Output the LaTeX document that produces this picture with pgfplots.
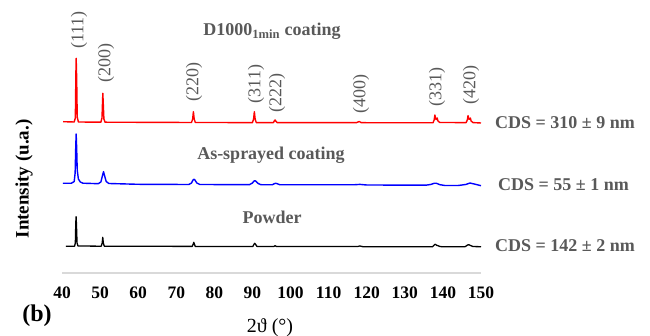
\documentclass[border=0pt]{standalone}
\usepackage{fontspec}
\setmainfont{Liberation Serif}
\usepackage{pgfplots}
\pgfplotsset{compat=1.18}
\definecolor{txtgray}{RGB}{89,89,89}
\definecolor{axgray}{RGB}{217,217,217}
\definecolor{xred}{RGB}{255,0,0}
\definecolor{xblue}{RGB}{0,0,255}
\begin{document}
\begin{tikzpicture}[x=1pt,y=1pt]
\useasboundingbox (0,0) rectangle (650,336);
\begin{axis}[
 at={(62pt,63pt)}, anchor=south west,
 scale only axis, width=419pt, height=268pt,
 xmin=40, xmax=150, ymin=0, ymax=268,
 axis x line*=bottom, axis y line=none,
 x axis line style={draw=axgray, line width=1.5pt, -},
 xtick={40,50,...,150},
 major tick length=0pt,
 tick style={draw=none},
 xticklabel style={font=\bfseries\fontsize{17.5}{20}\selectfont, inner sep=0pt, anchor=north, yshift=-14pt},
 /pgf/number format/assume math mode=true,
 ytick=\empty,
 clip=false,
]
% D1000 1min coating (offset intensity, a.u.)
\addplot[xred, line width=1.4pt, line join=round] coordinates {
(40.3,151.3) (43.2,151.0) (43.5,155) (43.65,200) (43.72,214.7) (43.85,195) (44.0,156) (44.3,151.0)
(50.2,150.8) (50.5,155) (50.65,172) (50.72,179.7) (50.85,168) (51.0,154) (51.3,150.8)
(74.0,150.5) (74.3,154) (74.5,161.3) (74.7,154) (75.0,150.5)
(90.0,150.4) (90.3,154) (90.5,161.3) (90.7,154) (91.0,150.4)
(95.5,150.4) (95.8,152.5) (95.95,153) (96.2,151.5) (96.5,150.3)
(117.3,150.3) (118.0,151.5) (118.6,150.3)
(137.4,150.2) (137.7,153) (137.9,158) (138.1,154) (138.3,153.5) (138.5,155) (138.7,152) (139.2,150.5)
(146.1,150.4) (146.4,153) (146.6,157.3) (146.8,154) (147.0,153.7) (147.2,155) (147.4,152) (147.9,150.4)
(150.0,150)
};
% As-sprayed coating
\addplot[xblue, line width=1.4pt, line join=round] coordinates {
(40.2,89.7) (42.5,89.8) (43.2,91.5) (43.45,100) (43.6,125) (43.72,139) (43.85,125) (44.0,103) (44.3,94) (44.8,91) (45.5,89.8)
(49.5,89.3) (50.2,91) (50.6,97) (50.9,101.3) (51.2,97) (51.6,91.5) (52.3,89.5)
(60,88.7) (73.3,88.5) (74.0,90) (74.4,93) (74.65,93.7) (74.9,93) (75.4,90) (76.2,88.5)
(89.2,88.3) (90.0,90) (90.4,92) (90.65,92.3) (90.9,91.8) (91.4,89.7) (92.2,88.3)
(95.2,88.2) (95.8,89.4) (96.1,89.7) (96.5,89.3) (97.2,88.2)
(116.5,88.2) (118.2,88.6) (120,88.0)
(135.5,87.8) (136.8,88.5) (137.7,89.7) (138.3,89.7) (139.2,88.3) (140.5,87.5)
(144,87.5) (146,88.5) (147.1,90) (148.2,89) (150,87.3)
};
% Powder
\addplot[black, line width=1.3pt, line join=round] coordinates {
(41.0,26.8) (43.3,26.8) (43.5,30) (43.62,50) (43.7,56.3) (43.8,48) (43.95,30) (44.2,27)
(50.3,26.8) (50.55,30) (50.7,35.7) (50.85,30) (51.1,26.8)
(74.2,26.6) (74.45,29) (74.6,30.7) (74.75,29) (75.0,26.5)
(90.1,26.5) (90.4,28.7) (90.6,29.7) (90.8,28.7) (91.2,26.5)
(95.6,26.5) (95.95,27.3) (96.3,26.5)
(117.5,26.4) (118.2,27) (119,26.3)
(137.3,26.3) (137.8,28.3) (138.0,28.7) (138.4,27.6) (138.7,27.3) (139.2,26.5) (140,26.2)
(145.8,26.3) (146.5,28) (146.8,28.3) (147.3,27.4) (147.8,26.6) (148.5,26.4) (150,26.3)
};
\end{axis}
% peak labels
\begin{scope}[every node/.style={text=txtgray, rotate=90, font=\fontsize{18}{20}\selectfont, inner sep=0pt}]
\node at (79,306) {(111)};
\node at (106,273) {(200)};
\node at (194,254) {(220)};
\node at (256,252) {(311)};
\node at (277,243) {(222)};
\node at (361,242) {(400)};
\node at (437,249) {(331)};
\node at (471,251) {(420)};
\end{scope}
\begin{scope}[every node/.style={text=txtgray, font=\bfseries\fontsize{18}{20}\selectfont, inner sep=0pt}]
\node at (272,305) {D1000\textsubscript{1min} coating};
\node at (271,181) {As-sprayed coating};
\node at (272,119) {Powder};
\node[anchor=west] at (495,213) {CDS = 310 ± 9 nm};
\node[anchor=west] at (498,151) {CDS = 55 ± 1 nm};
\node[anchor=west] at (495,90) {CDS = 142 ± 2 nm};
\end{scope}
\node[rotate=90, font=\bfseries\fontsize{19}{21}\selectfont, inner sep=0pt] at (24,157) {Intensity (u.a.)};
\node[font=\bfseries\fontsize{24}{26}\selectfont, inner sep=0pt] at (37,20) {(b)};
\node[font=\fontsize{20}{22}\selectfont, inner sep=0pt] at (270,8) {2ϑ (°)};
\end{tikzpicture}
\end{document}
